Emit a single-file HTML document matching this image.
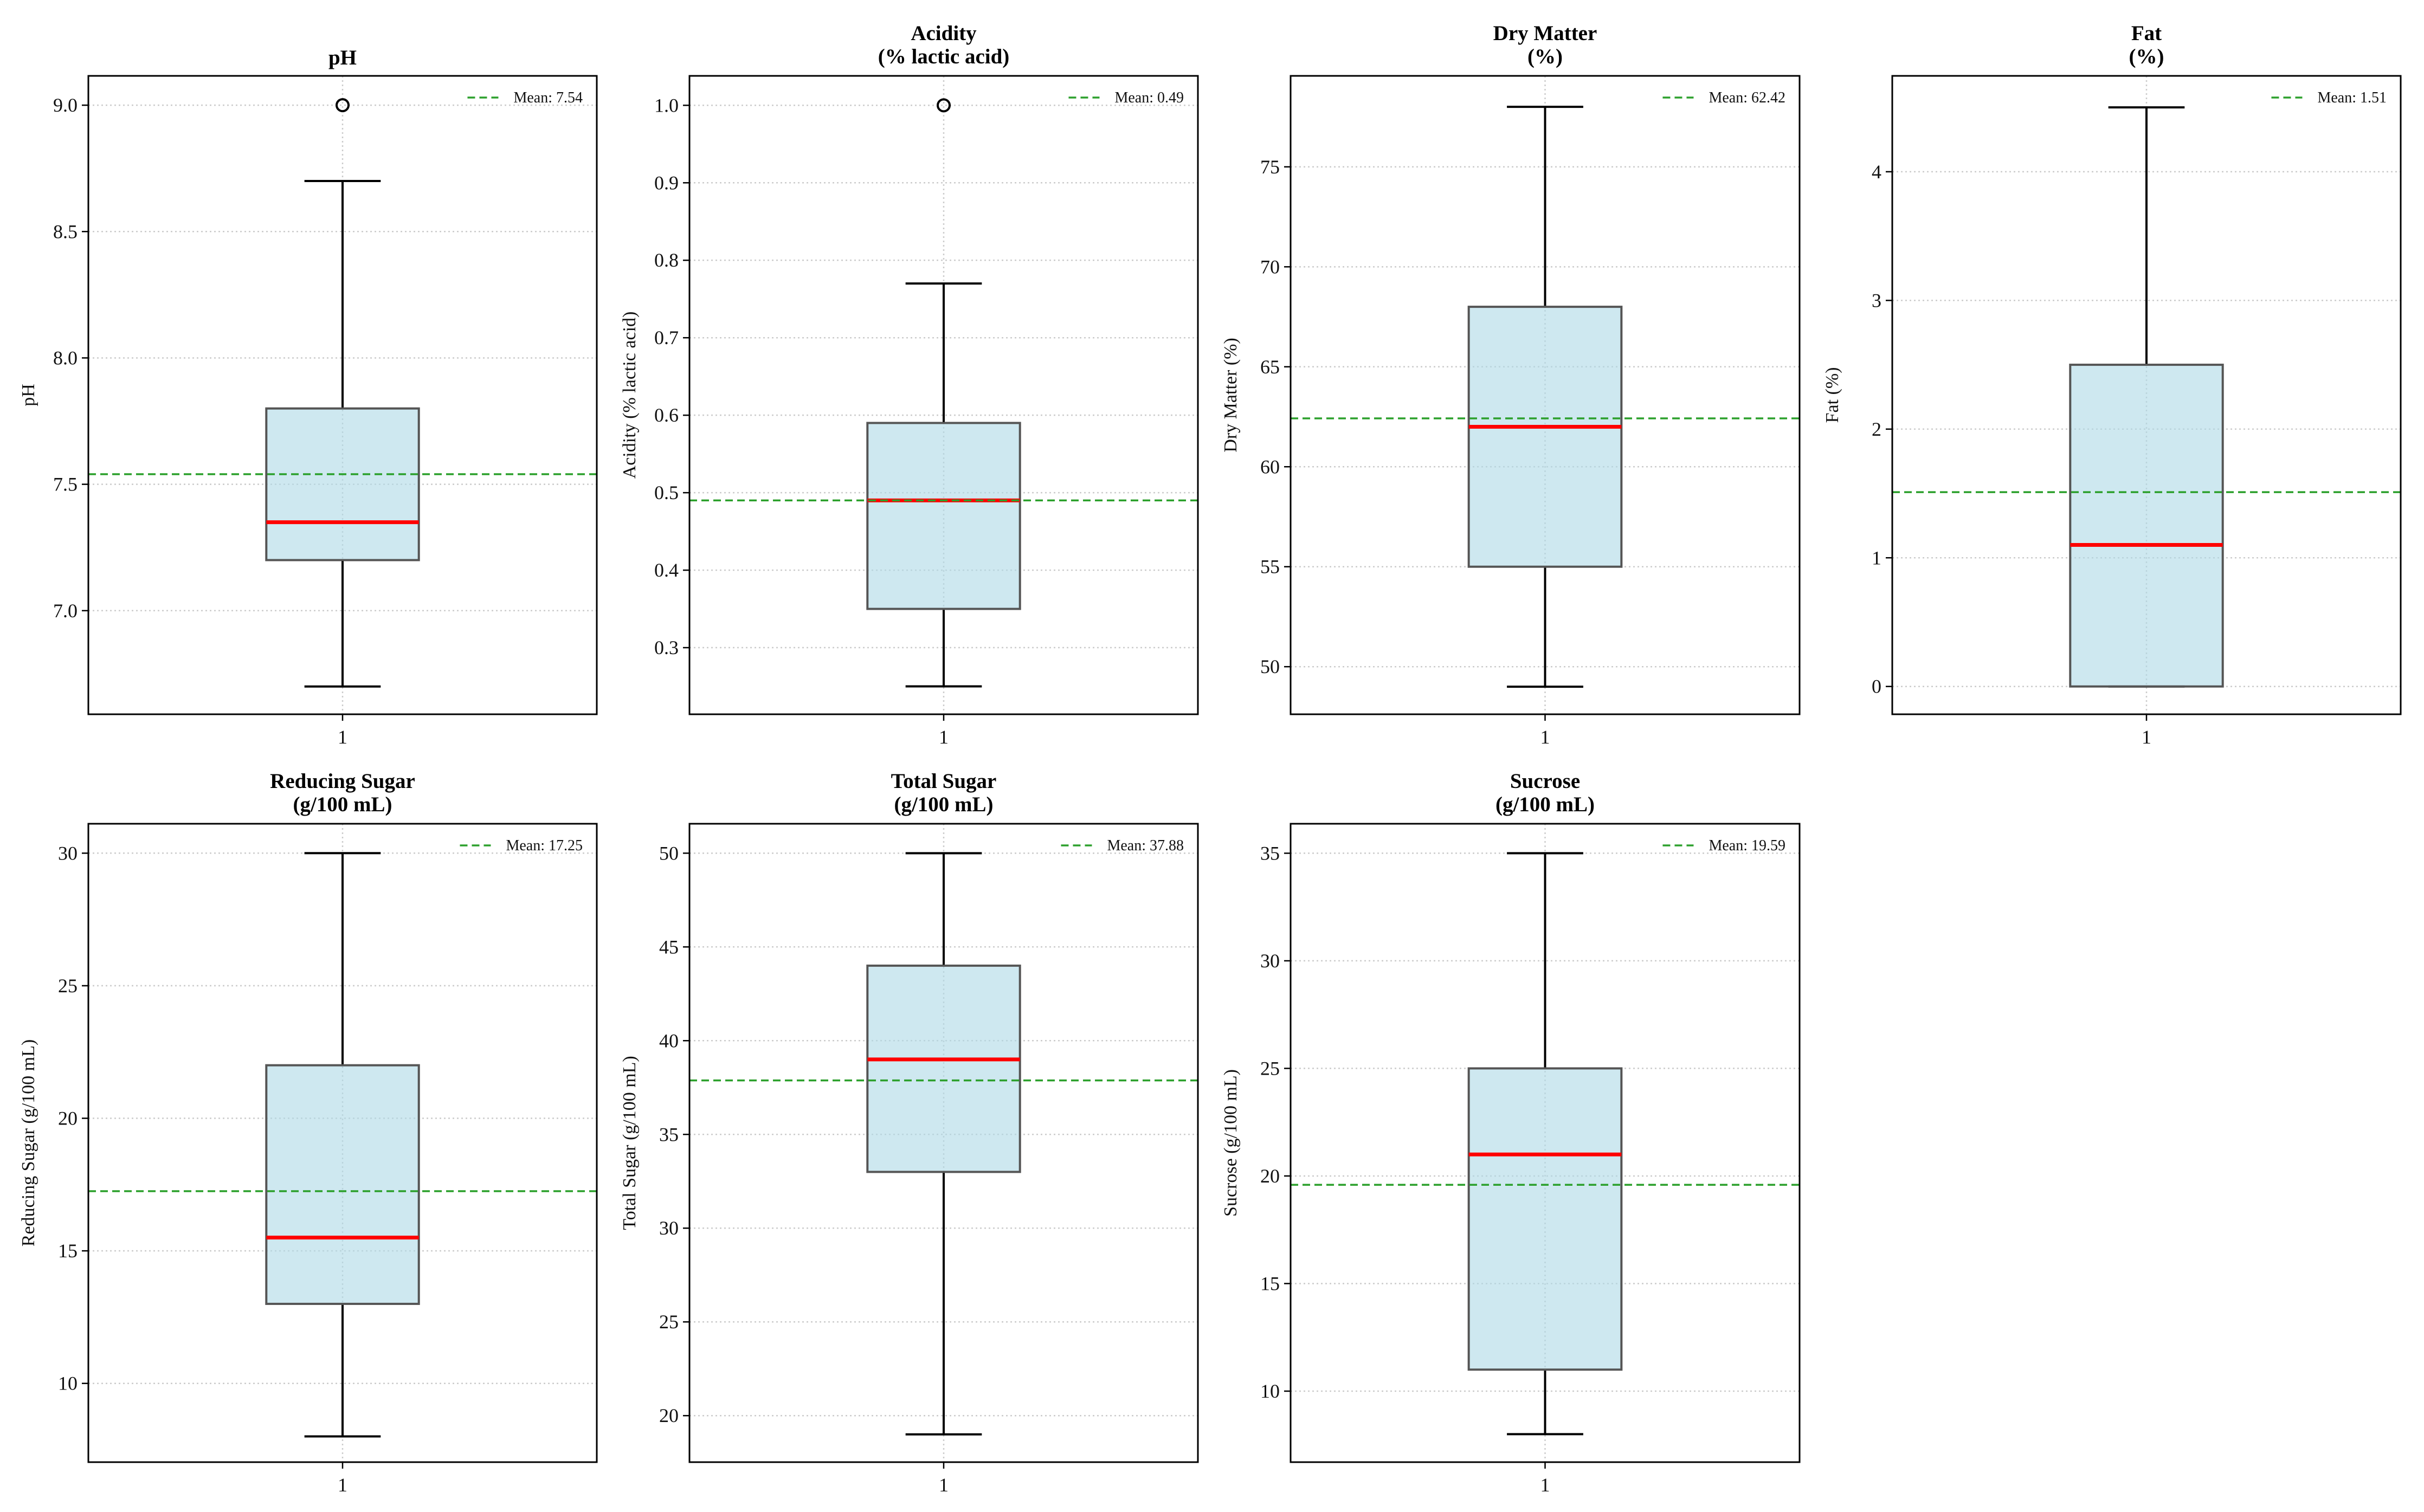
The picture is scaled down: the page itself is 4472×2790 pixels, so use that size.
<!DOCTYPE html>
<html><head><meta charset="utf-8"><style>
html,body{margin:0;padding:0;background:#fff;}
svg{display:block;font-family:"Liberation Serif","DejaVu Serif",serif;}
</style></head><body>
<svg id="chart" width="4472" height="2790" viewBox="0 0 4472 2790" xmlns="http://www.w3.org/2000/svg"></svg>
<script>
const titles = [["pH"],["Acidity","(% lactic acid)"],["Dry Matter","(%)"],["Fat","(%)"],["Reducing Sugar","(g/100 mL)"],["Total Sugar","(g/100 mL)"],["Sucrose","(g/100 mL)"]];
const yLabels = ["pH","Acidity (% lactic acid)","Dry Matter (%)","Fat (%)","Reducing Sugar (g/100 mL)","Total Sugar (g/100 mL)","Sucrose (g/100 mL)"];
const whiskerLow = [6.7,0.25,49,0,8,19,8];
const q1 = [7.2,0.35,55,0,13,33,11];
const medians = [7.35,0.49,62,1.1,15.5,39,21];
const q3 = [7.8,0.59,68,2.5,22,44,25];
const whiskerHigh = [8.7,0.77,78,4.5,30,50,35];
const outliers = [[9.0],[1.0],[],[],[],[],[]];
const means = [7.54,0.49,62.42,1.51,17.25,37.88,19.59];
const meanLabels = ["7.54","0.49","62.42","1.51","17.25","37.88","19.59"];
const yMin = [6.59,0.214,47.62,-0.216,7.03,17.52,6.70];
const yMax = [9.116,1.038,79.55,4.745,31.11,51.57,36.37];
const yTicks = [[7.0,7.5,8.0,8.5,9.0],[0.3,0.4,0.5,0.6,0.7,0.8,0.9,1.0],[50,55,60,65,70,75],[0,1,2,3,4],[10,15,20,25,30],[20,25,30,35,40,45,50],[10,15,20,25,30,35]];
const yTickLabels = [["7.0","7.5","8.0","8.5","9.0"],["0.3","0.4","0.5","0.6","0.7","0.8","0.9","1.0"],["50","55","60","65","70","75"],["0","1","2","3","4"],["10","15","20","25","30"],["20","25","30","35","40","45","50"],["10","15","20","25","30","35"]];

const NS="http://www.w3.org/2000/svg";
const svg=document.getElementById('chart');
const colL=[163,1272,2381,3491], colR=[1101,2210,3320,4429];
const rowT=[140,1520], rowB=[1318,2698];
function mk(tag,attrs,parent){const e=document.createElementNS(NS,tag);for(const k in attrs)e.setAttribute(k,attrs[k]);(parent||svg).appendChild(e);return e;}

for(let i=0;i<7;i++){
  const r=Math.floor(i/4), c=i%4;
  const L=colL[c],R=colR[c],T=rowT[r],B=rowB[r];
  const g=mk('g',{});
  
  
  const y=v=>B-(v-yMin[i])/(yMax[i]-yMin[i])*(B-T);
  const cx=(L+R)/2, bw=(R-L)*0.3, cw=bw/2;
  yTicks[i].forEach((t,k)=>{
    const gl=mk('line',{x1:L,x2:R,y1:y(t),y2:y(t),stroke:'#cccccc','stroke-width':2.5,'stroke-dasharray':'3 5'},g);
    
    
    const tk=mk('line',{x1:L-12,x2:L,y1:y(t),y2:y(t),stroke:'#000','stroke-width':2.5},g);
    
    
    const tl=mk('text',{x:L-20,y:y(t)+12,'text-anchor':'end','font-size':36,fill:'#111'},g);
    tl.textContent=yTickLabels[i][k];
    
    
  });
  const vg=mk('line',{x1:cx,x2:cx,y1:T,y2:B,stroke:'#cccccc','stroke-width':2.5,'stroke-dasharray':'3 5'},g);
  
  
  const w1=mk('line',{x1:cx,x2:cx,y1:y(q1[i]),y2:y(whiskerLow[i]),stroke:'#000','stroke-width':4},g);
  
  
  const w2=mk('line',{x1:cx,x2:cx,y1:y(q3[i]),y2:y(whiskerHigh[i]),stroke:'#000','stroke-width':4},g);
  
  
  const c1=mk('line',{x1:cx-cw/2,x2:cx+cw/2,y1:y(whiskerLow[i]),y2:y(whiskerLow[i]),stroke:'#000','stroke-width':4},g);
  
  
  const c2=mk('line',{x1:cx-cw/2,x2:cx+cw/2,y1:y(whiskerHigh[i]),y2:y(whiskerHigh[i]),stroke:'#000','stroke-width':4},g);
  
  
  const bx=mk('rect',{x:cx-bw/2,y:y(q3[i]),width:bw,height:y(q1[i])-y(q3[i]),fill:'#add8e6','fill-opacity':0.6,stroke:'#555','stroke-width':4},g);
  
  
  const md=mk('line',{x1:cx-bw/2,x2:cx+bw/2,y1:y(medians[i]),y2:y(medians[i]),stroke:'#ff0000','stroke-width':7},g);
  
  
  outliers[i].forEach(o=>{
    const oc=mk('circle',{cx:cx,cy:y(o),r:11,fill:'none',stroke:'#000','stroke-width':4},g);
    
    
  });
  const ml=mk('line',{x1:L,x2:R,y1:y(means[i]),y2:y(means[i]),stroke:'#2ca02c','stroke-width':3.5,'stroke-dasharray':'14 8'},g);
  
  
  const fr=mk('rect',{x:L,y:T,width:R-L,height:B-T,fill:'none',stroke:'#000','stroke-width':3},g);
  
  
  const xt=mk('line',{x1:cx,x2:cx,y1:B,y2:B+12,stroke:'#000','stroke-width':2.5},g);
  
  
  const xl=mk('text',{x:cx,y:B+54,'text-anchor':'middle','font-size':36,fill:'#111'},g);
  xl.textContent='1';
  
  
  const lt=mk('text',{x:R-26,y:T+49,'text-anchor':'end','font-size':28,fill:'#111'},g);
  lt.textContent='Mean: '+meanLabels[i];
  
  
  const tw=lt.getComputedTextLength();
  const ll=mk('line',{x1:R-26-tw-28-57,x2:R-26-tw-28,y1:T+40,y2:T+40,stroke:'#2ca02c','stroke-width':3.5,'stroke-dasharray':'14 8'},g);
  
  
  const ttl=titles[i];
  ttl.forEach((s,k)=>{
    const yy = ttl.length===1 ? T-21 : T-66+k*43;
    const te=mk('text',{x:cx,y:yy,'text-anchor':'middle','font-size':39,'font-weight':'bold',fill:'#000'},g);
    te.textContent=s;
    
    
  });
  const ym=(T+B)/2;
  const yl=mk('text',{x:0,y:0,transform:`translate(${L-100},${ym}) rotate(-90)`,'text-anchor':'middle','font-size':34,fill:'#111'},g);
  yl.textContent=yLabels[i];
  
  
}
</script>
</body></html>
